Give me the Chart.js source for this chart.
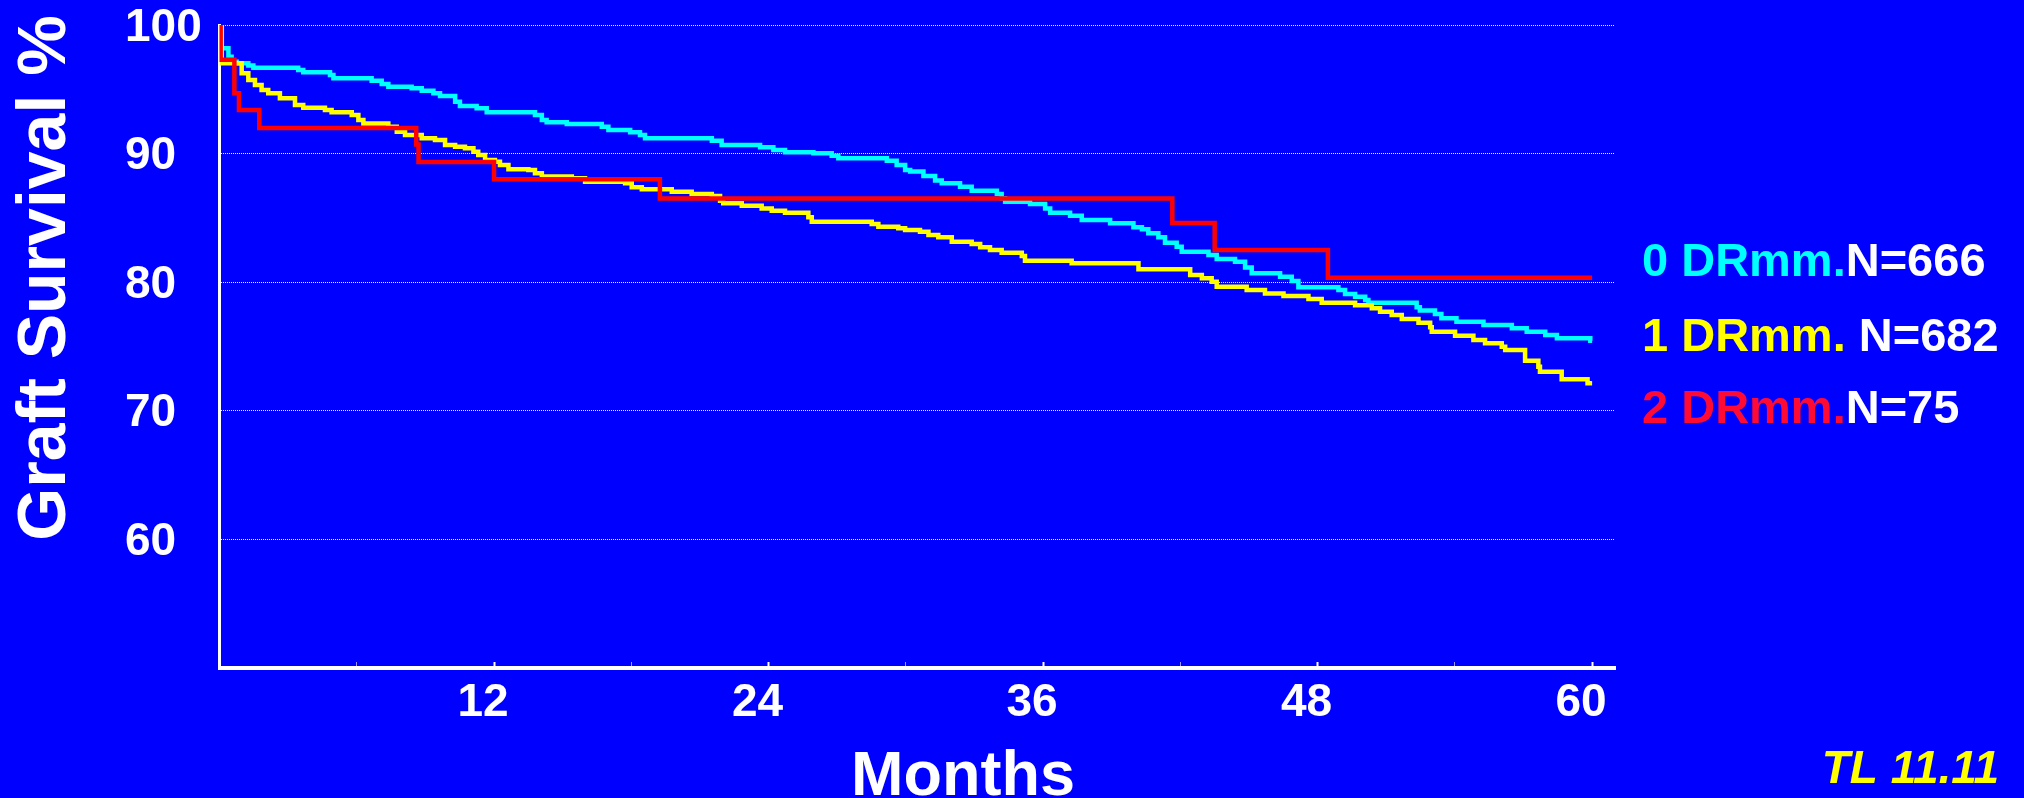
<!DOCTYPE html>
<html>
<head>
<meta charset="utf-8">
<title>Graft Survival by DR mismatch</title>
<script src="https://cdn.jsdelivr.net/npm/chart.js@4.4.1/dist/chart.umd.min.js"></script>
<style>
  html, body { margin: 0; padding: 0; background: #0000ff; }
  #chart { display: block; }
</style>
</head>
<body>
<canvas id="chart" width="2024" height="798"></canvas>
<script>
// tick labels
const yTickValues = [60, 70, 80, 90, 100];
const xTickValues = [6, 12, 18, 24, 30, 36, 42, 48, 54, 60];
const xLabelStep = 12;

// legend text: group name (coloured) + patient count (white)
const groupNames = ['0 DRmm.', '1 DRmm. ', '2 DRmm.'];
const groupCounts = ['N=666', 'N=682', 'N=75'];
const lineColors = ['#00ffff', '#ffff00', '#ff0000'];
const legendColors = ['#00ffff', '#ffff00', '#ff0a33'];

// Kaplan-Meier curves: [month, graft survival %]
const drmm0 = [
  [0, 100], [0.1, 98.19], [0.39, 97.54], [0.53, 97.15], [0.75, 97.02], [1.26, 96.86],
  [1.48, 96.68], [3.44, 96.5], [3.66, 96.32], [4.83, 96.11], [4.98, 95.86], [6.65, 95.67],
  [7.09, 95.41], [7.38, 95.2], [8.4, 95.08], [8.84, 94.89], [9.35, 94.69], [9.64, 94.48],
  [10.3, 94.04], [10.51, 93.7], [11.24, 93.52], [11.68, 93.21], [13.79, 93.0], [14.09, 92.61],
  [14.3, 92.43], [15.18, 92.3], [16.71, 92.09], [17.0, 91.84], [17.95, 91.66], [18.38, 91.45],
  [18.6, 91.19], [21.52, 91.0], [21.95, 90.67], [23.63, 90.49], [24.21, 90.28], [24.72, 90.1],
  [25.96, 90.02], [26.76, 89.84], [27.05, 89.63], [29.17, 89.45], [29.6, 89.11], [29.97, 88.72],
  [30.19, 88.6], [30.77, 88.26], [31.28, 87.9], [31.57, 87.69], [32.37, 87.43], [32.88, 87.12],
  [33.98, 86.86], [34.19, 86.52], [34.34, 86.26], [35.43, 86.08], [36.09, 85.74], [36.31, 85.41],
  [37.18, 85.17], [37.69, 84.84], [38.93, 84.58], [39.95, 84.27], [40.32, 84.11], [40.6, 83.8],
  [41.04, 83.49], [41.33, 83.07], [41.84, 82.76], [42.06, 82.37], [43.23, 82.11], [43.59, 81.8],
  [44.39, 81.59], [44.83, 81.15], [45.12, 80.69], [46.36, 80.43], [46.87, 80.09], [47.16, 79.6],
  [48.91, 79.39], [49.2, 79.08], [49.64, 78.87], [50.08, 78.62], [50.22, 78.41], [52.33, 78.05],
  [52.47, 77.79], [53.13, 77.53], [53.41, 77.19], [54.07, 76.93], [55.25, 76.67], [56.49, 76.41],
  [57.14, 76.15], [57.95, 75.89], [58.46, 75.64], [59.92, 75.45], [60, 75.45]
];
const drmm1 = [
  [0, 100], [0.1, 97.02], [0.97, 96.24], [1.26, 95.72], [1.55, 95.33], [1.84, 94.95],
  [2.13, 94.69], [2.64, 94.3], [3.3, 93.78], [3.66, 93.57], [4.61, 93.39], [4.9, 93.21],
  [5.78, 93.0], [6.07, 92.61], [6.29, 92.35], [7.38, 92.09], [7.75, 91.7], [8.11, 91.45],
  [8.84, 91.19], [9.42, 91.06], [9.86, 90.67], [10.3, 90.54], [10.73, 90.41], [11.1, 90.15],
  [11.31, 89.89], [11.61, 89.5], [12.04, 89.37], [12.26, 89.11], [12.63, 88.78], [13.5, 88.72],
  [13.79, 88.47], [14.09, 88.21], [15.4, 88.08], [15.98, 87.82], [17.73, 87.69], [18.02, 87.38],
  [18.46, 87.22], [19.77, 87.04], [20.64, 86.86], [21.52, 86.7], [21.88, 86.34], [22.02, 86.13],
  [22.83, 85.95], [23.7, 85.74], [24.14, 85.56], [24.72, 85.41], [25.74, 85.05], [25.89, 84.7],
  [28.51, 84.53], [28.8, 84.32], [29.67, 84.19], [29.97, 84.06], [30.62, 83.93], [30.99, 83.67],
  [31.42, 83.49], [32.01, 83.15], [32.88, 82.97], [33.25, 82.71], [33.68, 82.5], [34.19, 82.29],
  [35.07, 82.04], [35.21, 81.67], [37.25, 81.47], [40.17, 81.0], [42.43, 80.56], [42.94, 80.3],
  [43.37, 80.04], [43.59, 79.65], [44.9, 79.39], [45.7, 79.13], [46.51, 78.93], [47.6, 78.69],
  [48.18, 78.41], [49.64, 78.2], [50.37, 77.97], [50.73, 77.71], [51.24, 77.45], [51.68, 77.14],
  [52.41, 76.85], [52.92, 76.49], [52.99, 76.15], [54.01, 75.84], [54.81, 75.51], [55.32, 75.25],
  [56.05, 74.99], [56.2, 74.73], [57.07, 73.9], [57.65, 73.43], [57.72, 73.04], [58.67, 72.45],
  [59.8, 72.14], [60, 72.14]
];
const drmm2 = [
  [0, 100], [0.05, 97.3], [0.65, 94.7], [0.85, 93.4], [1.74, 92.0], [8.6, 90.7],
  [8.7, 89.35], [12.0, 88.0], [19.25, 86.5], [41.65, 84.6], [43.5, 82.5], [48.45, 80.35],
  [60, 80.35]
];

const FONT = '"Liberation Sans", Arial, Helvetica, sans-serif';

// axis titles, legend and slide reference are placed like on the original slide
const slideText = {
  id: 'slideText',
  afterDraw(chart) {
    const ctx = chart.ctx;
    ctx.save();
    ctx.fillStyle = '#ffffff';
    ctx.textBaseline = 'alphabetic';

    // y title, rotated
    ctx.save();
    ctx.font = 'bold 68px ' + FONT;
    ctx.textAlign = 'center';
    ctx.translate(65, 278);
    ctx.rotate(-Math.PI / 2);
    ctx.fillText('Graft Survival %', 0, 0);
    ctx.restore();

    // x title
    ctx.font = 'bold 63px ' + FONT;
    ctx.textAlign = 'center';
    ctx.fillText('Months', 963, 795);

    // legend, two colours per line
    ctx.font = 'bold 47px ' + FONT;
    ctx.textAlign = 'left';
    const baselines = [276, 351, 423];
    groupNames.forEach((name, i) => {
      ctx.fillStyle = legendColors[i];
      ctx.fillText(name, 1642, baselines[i]);
      const w = ctx.measureText(name).width;
      ctx.fillStyle = '#ffffff';
      ctx.fillText(groupCounts[i], 1642 + w, baselines[i]);
    });

    // slide reference
    ctx.font = 'italic bold 46px ' + FONT;
    ctx.fillStyle = '#ffff00';
    ctx.textAlign = 'right';
    ctx.fillText('TL 11.11', 1999, 783);
    ctx.restore();
  }
};

const curves = [drmm0, drmm1, drmm2];
const isMajor = v => v % xLabelStep === 0;

new Chart(document.getElementById('chart'), {
  type: 'line',
  data: {
    datasets: curves.map((curve, i) => ({
      label: groupNames[i].trim(),
      data: curve.map(([m, s]) => ({ x: m, y: s })),
      borderColor: lineColors[i],
      backgroundColor: lineColors[i],
      borderWidth: 4.5,
      pointRadius: 0,
      stepped: true,
      order: 3 - i // red drawn on top
    }))
  },
  options: {
    responsive: false,
    animation: false,
    layout: { padding: { left: 125, right: 409, top: 25, bottom: 0 } },
    plugins: {
      legend: { display: false },
      tooltip: { enabled: false }
    },
    scales: {
      x: {
        type: 'linear',
        min: 0,
        max: 61,
        afterBuildTicks(scale) {
          scale.ticks = xTickValues.map(v => ({ value: v }));
        },
        afterFit(scale) {
          scale.height = 130;
          scale.paddingLeft = 0;
          scale.paddingRight = 0;
        },
        // small tick marks pointing up into the plot
        grid: {
          display: true,
          drawOnChartArea: false,
          drawTicks: true,
          tickLength: -6,
          tickColor: ctx => isMajor(ctx.tick.value) ? '#ffffff' : 'rgba(255,255,255,0.6)',
          tickWidth: ctx => isMajor(ctx.tick.value) ? 2 : 1
        },
        border: { display: true, color: '#ffffff', width: 4 },
        ticks: {
          color: '#ffffff',
          font: { family: FONT, size: 46, weight: 'bold' },
          padding: 14,
          labelOffset: -11,
          maxRotation: 0,
          autoSkip: false,
          callback: v => isMajor(v) ? String(v) : ''
        }
      },
      y: {
        min: 50,
        max: 100,
        afterBuildTicks(scale) {
          scale.ticks = yTickValues.map(v => ({ value: v }));
        },
        afterFit(scale) {
          scale.width = 94.5;
          scale.paddingTop = 0;
          scale.paddingBottom = 0;
        },
        grid: { color: 'rgba(255,255,255,0.9)', lineWidth: 1, drawTicks: false },
        border: { display: true, color: '#ffffff', width: 3, dash: [1, 1] },
        ticks: {
          color: '#ffffff',
          font: { family: FONT, size: 46, weight: 'bold' },
          crossAlign: 'far',
          labelOffset: 3,
          padding: 0
        }
      }
    }
  },
  plugins: [slideText]
});
</script>
</body>
</html>
